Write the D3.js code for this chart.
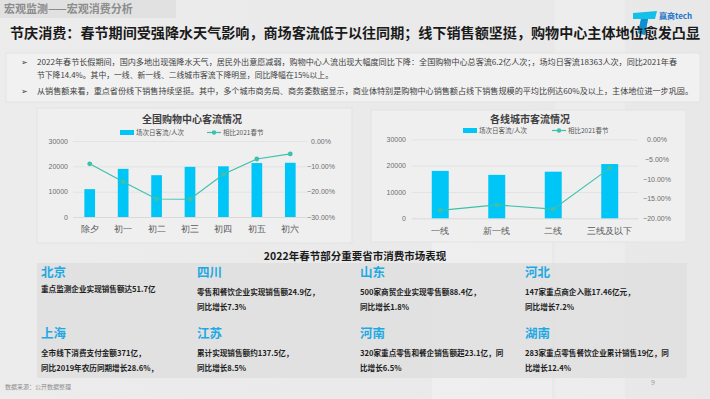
<!DOCTYPE html>
<html>
<head>
<meta charset="utf-8">
<script src="https://cdn.jsdelivr.net/npm/d3@7"></script>
<style>
  body { margin: 0; background: #ebebeb; }
  svg { display: block; font-family: "Noto Sans CJK SC", "Noto Sans", sans-serif; }
</style>
</head>
<body>
<div class="chart"></div>
<script>
// chart data
var days = ["除夕", "初一", "初二", "初三", "初四", "初五", "初六"];
var dayFlow = [11000, 19000, 16500, 19800, 20000, 21300, 21400];
var dayChange = [-9.0, -16.1, -22.9, -23.0, -13.1, -7.1, -5.1];
var tiers = ["一线", "新一线", "二线", "三线及以下"];
var tierFlow = [18000, 16500, 17700, 20600];
var tierChange = [-18.0, -16.6, -17.7, -7.3];
var flowTicks = [0, 10000, 20000, 30000];
var dayPctTicks = [0, -10, -20, -30];
var tierPctTicks = [0, -5, -10, -15, -20];

var provinces = ["北京", "四川", "山东", "河北", "上海", "江苏", "河南", "湖南"];
var provinceText = [
  ["重点监测企业实现销售额达51.7亿"],
  ["零售和餐饮企业实现销售额24.9亿，", "同比增长7.3%"],
  ["500家商贸企业实现零售额88.4亿，", "同比增长1.8%"],
  ["147家重点商企入账17.46亿元，", "同比增长7.2%"],
  ["全市线下消费支付金额371亿，", "同比2019年农历同期增长28.6%，"],
  ["累计实现销售额约137.5亿，", "同比增长8.5%"],
  ["320家重点零售和餐企销售额超23.1亿，同", "比增长6.5%"],
  ["283家重点零售餐饮企业累计销售19亿，同", "比增长12.4%"]
];

var barColor = "#00c5f7";
var lineColor = "#3cc1ad";
var blue = "#1fa9e2";

var svg = d3.select(".chart").append("svg")
  .attr("width", 710)
  .attr("height", 399);

// background
var bg = svg.append("defs").append("linearGradient")
  .attr("id", "bgGrad").attr("x1", 0).attr("y1", 0).attr("x2", 1).attr("y2", 0);
bg.append("stop").attr("offset", "0%").attr("stop-color", "#ececec");
bg.append("stop").attr("offset", "100%").attr("stop-color", "#e8e8e8");
svg.append("rect").attr("width", 710).attr("height", 399).attr("fill", "url(#bgGrad)");
svg.append("rect").attr("x", 432).attr("y", 110).attr("width", 120).attr("height", 289)
  .attr("fill", "#ffffff").attr("opacity", 0.25);
svg.append("rect").attr("x", 555).attr("y", 0).attr("width", 70).attr("height", 399)
  .attr("fill", "#ffffff").attr("opacity", 0.2);

// header
svg.append("rect").attr("x", 0).attr("y", 0).attr("width", 176).attr("height", 18).attr("fill", "#e1e1e1");
svg.append("text").attr("x", 4).attr("y", 13)
  .attr("font-size", 11).attr("font-weight", "bold").attr("fill", "#8c8c8c")
  .text("宏观监测——宏观消费分析");

// logo (drawn under the title, as in the slide)
var logo = svg.append("g").attr("transform", "translate(633,11)");
logo.append("path").attr("d", "M0,2 L24,0 L22,8 L15,8 L12,24 L5,22 L8,8 L0,8 Z").attr("fill", "#15c0e8");
logo.append("path").attr("d", "M8,8 L15,8 L12,24 L5,22 Z").attr("fill", "#0f8fd0");
logo.append("text").attr("x", 26).attr("y", 8).attr("font-size", 8).attr("font-weight", "bold")
  .attr("fill", "#1c74c9").text("赢商tech");

svg.append("text").attr("x", 10).attr("y", 38)
  .attr("font-size", 14).attr("font-weight", "bold").attr("fill", "#1a1a1a")
  .attr("textLength", 690).attr("lengthAdjust", "spacingAndGlyphs")
  .text("节庆消费：春节期间受强降水天气影响，商场客流低于以往同期；线下销售额坚挺，购物中心主体地位愈发凸显");

// bullet box
svg.append("rect").attr("x", 6).attr("y", 53).attr("width", 694).attr("height", 49)
  .attr("fill", "#f1f1f1").attr("stroke", "#e0e0e0").attr("stroke-width", 0.8);
var bullets = svg.append("g").attr("font-size", 7.6).attr("fill", "#404040");
bullets.append("text").attr("x", 21).attr("y", 65).text("➢");
bullets.append("text").attr("x", 21).attr("y", 94).text("➢");
bullets.append("text").attr("x", 37).attr("y", 65).attr("textLength", 640).attr("lengthAdjust", "spacingAndGlyphs")
  .text("2022年春节长假期间，国内多地出现强降水天气，居民外出意愿减弱，购物中心人流出现大幅度同比下降：全国购物中心总客流6.2亿人次；，场均日客流18363人次，同比2021年春");
bullets.append("text").attr("x", 37).attr("y", 78).attr("textLength", 296).attr("lengthAdjust", "spacingAndGlyphs")
  .text("节下降14.4%。其中，一线、新一线、二线城市客流下降明显，同比降幅在15%以上。");
bullets.append("text").attr("x", 37).attr("y", 94).attr("textLength", 656).attr("lengthAdjust", "spacingAndGlyphs")
  .text("从销售额来看，重点省份线下销售持续坚挺。其中，多个城市商务局、商务委数据显示，商业体特别是购物中心销售额占线下销售规模的平均比例达60%及以上，主体地位进一步巩固。");

// combo chart: bars on left axis, line on right axis
function drawCombo(opt) {
  svg.append("rect").attr("x", opt.panel[0]).attr("y", opt.panel[1])
    .attr("width", opt.panel[2] - opt.panel[0]).attr("height", opt.panel[3] - opt.panel[1])
    .attr("fill", "#efefef").attr("stroke", "#e1e1e1").attr("stroke-width", 0.8);

  var g = svg.append("g");
  var width = opt.right - opt.left;

  var x = d3.scaleBand().domain(opt.cats).range([opt.left, opt.right]);
  var yL = d3.scaleLinear().domain([0, 30000]).range([opt.bottom, opt.top]);
  var yR = d3.scaleLinear().domain([opt.pctTicks[opt.pctTicks.length - 1], 0]).range([opt.bottom, opt.top]);

  // gridlines
  var grid = g.append("g").attr("transform", "translate(" + opt.left + ",0)")
    .call(d3.axisLeft(yL).tickValues(opt.flowTicks).tickSize(-width).tickFormat(""));
  grid.select(".domain").remove();
  grid.selectAll("line").attr("stroke", function(d) { return d === 0 ? "#d4d4d4" : "#e0e0e0"; }).attr("stroke-width", 0.8);

  // left axis labels
  var la = g.append("g").attr("transform", "translate(" + opt.labelL + ",0)")
    .call(d3.axisLeft(yL).tickValues(opt.flowTicks).tickSize(0).tickPadding(0).tickFormat(d3.format("d")));
  la.select(".domain").remove();
  la.selectAll("text").attr("font-size", 7).attr("fill", "#6e6e6e").attr("font-family", "inherit");

  // right axis labels
  var ra = g.append("g").attr("transform", "translate(" + opt.labelR + ",0)")
    .call(d3.axisRight(yR).tickValues(opt.pctTicks).tickSize(0).tickPadding(0)
      .tickFormat(function(d) { return d3.format(".2f")(d) + "%"; }));
  ra.select(".domain").remove();
  ra.selectAll("text").attr("font-size", 7).attr("fill", "#6e6e6e").attr("text-anchor", "middle").attr("font-family", "inherit");

  // category axis
  var xa = g.append("g").attr("transform", "translate(0," + opt.bottom + ")")
    .call(d3.axisBottom(x).tickSize(0).tickPadding(opt.catPad));
  xa.select(".domain").remove();
  xa.selectAll("text").attr("font-size", 8.5).attr("fill", "#595959").attr("font-family", "inherit");

  // bars
  var bw = x.bandwidth() * opt.barRatio;
  g.selectAll(".bar").data(opt.flows).enter().append("rect")
    .attr("x", function(d, i) { return x(opt.cats[i]) + (x.bandwidth() - bw) / 2; })
    .attr("y", function(d) { return yL(d); })
    .attr("width", bw)
    .attr("height", function(d) { return yL(0) - yL(d); })
    .attr("fill", barColor);

  // line
  var line = d3.line()
    .x(function(d, i) { return x(opt.cats[i]) + x.bandwidth() / 2; })
    .y(function(d) { return yR(d); });
  g.append("path").datum(opt.changes).attr("d", line)
    .attr("fill", "none").attr("stroke", lineColor).attr("stroke-width", 1.2);
  g.selectAll(".pt").data(opt.changes).enter().append("circle")
    .attr("cx", function(d, i) { return x(opt.cats[i]) + x.bandwidth() / 2; })
    .attr("cy", function(d) { return yR(d); })
    .attr("r", 2.4).attr("fill", lineColor);

  // title
  g.append("text").attr("x", opt.titleX).attr("y", 123).attr("text-anchor", "middle")
    .attr("font-size", 10).attr("font-weight", "bold").attr("fill", "#404040").text(opt.title);

  // legend
  var lg = g.append("g").attr("font-size", 6.5).attr("fill", "#595959");
  lg.append("rect").attr("x", opt.legX).attr("y", opt.legY - 3).attr("width", 14).attr("height", 5).attr("fill", barColor);
  lg.append("text").attr("x", opt.legX + 16).attr("y", opt.legY + 2.3).text("场次日客流/人次");
  lg.append("line").attr("x1", opt.legX2).attr("x2", opt.legX2 + 14)
    .attr("y1", opt.legY - 0.5).attr("y2", opt.legY - 0.5).attr("stroke", lineColor).attr("stroke-width", 1.2);
  lg.append("circle").attr("cx", opt.legX2 + 7).attr("cy", opt.legY - 0.5).attr("r", 2.2).attr("fill", lineColor);
  lg.append("text").attr("x", opt.legX2 + 16).attr("y", opt.legY + 2.3).text("相比2021春节");
}

drawCombo({
  panel: [37, 108, 352, 243],
  left: 73, right: 307, top: 141, bottom: 217,
  labelL: 68, labelR: 321, catPad: 9, barRatio: 0.32,
  cats: days, flows: dayFlow, changes: dayChange,
  flowTicks: flowTicks, pctTicks: dayPctTicks,
  title: "全国购物中心客流情况", titleX: 192,
  legX: 120, legX2: 207, legY: 133
});

drawCombo({
  panel: [371, 110, 686, 242],
  left: 412, right: 638, top: 139.3, bottom: 218.3,
  labelL: 406, labelR: 657, catPad: 10, barRatio: 0.3,
  cats: tiers, flows: tierFlow, changes: tierChange,
  flowTicks: flowTicks, pctTicks: tierPctTicks,
  title: "各线城市客流情况", titleX: 530,
  legX: 463, legX2: 552, legY: 131
});

// provinces section
svg.append("text").attr("x", 355).attr("y", 260).attr("text-anchor", "middle")
  .attr("font-size", 10.5).attr("font-weight", "bold").attr("fill", "#1a1a1a")
  .text("2022年春节部分重要省市消费市场表现");

svg.append("rect").attr("x", 37).attr("y", 263).attr("width", 650).attr("height", 115)
  .attr("fill", "#dedede").attr("opacity", 0.8);

var colX = [41, 197, 360, 525];
var rowY = [277, 338];
provinces.forEach(function(name, i) {
  var cx = colX[i % 4];
  var cy = rowY[Math.floor(i / 4)];
  svg.append("text").attr("x", cx).attr("y", cy)
    .attr("font-size", 12.5).attr("font-weight", "bold").attr("fill", blue).text(name);
  provinceText[i].forEach(function(t, j) {
    svg.append("text").attr("x", cx).attr("y", cy + (i === 0 ? 15 : 18) + j * 15)
      .attr("font-size", 7.6).attr("font-weight", "bold").attr("fill", "#1e1e1e").text(t);
  });
});

// footer
svg.append("text").attr("x", 5).attr("y", 389).attr("font-size", 6).attr("fill", "#8c8c8c").text("数据来源：公开数据整理");
svg.append("text").attr("x", 651).attr("y", 385).attr("font-size", 7).attr("fill", "#9a9a9a").text("9");
</script>
</body>
</html>
